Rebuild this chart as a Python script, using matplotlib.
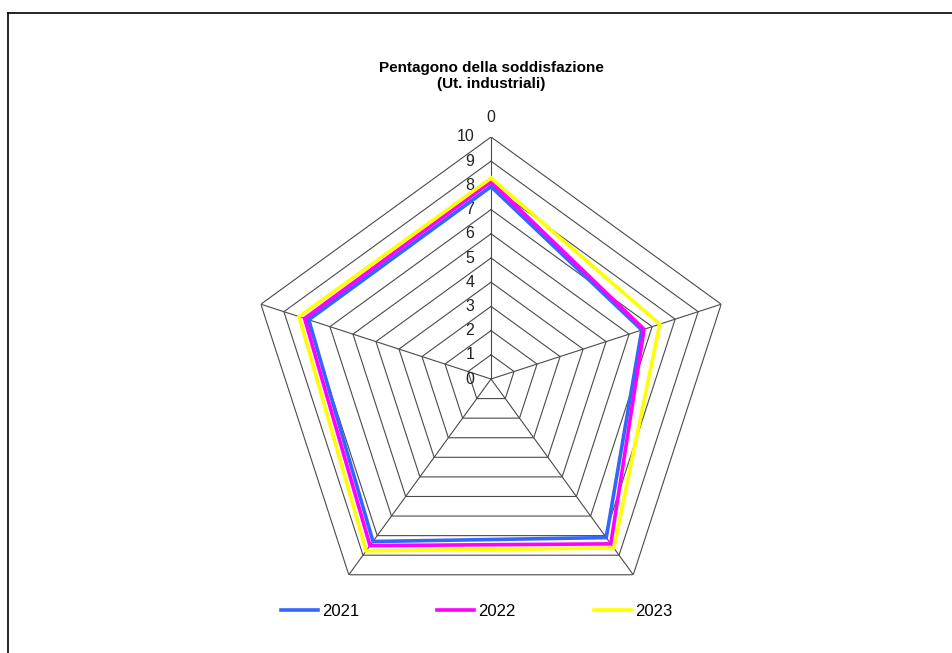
import numpy as np
import matplotlib
matplotlib.use("Agg")
import matplotlib.pyplot as plt
from matplotlib.lines import Line2D

plt.rcParams['font.family'] = ['Liberation Sans', 'DejaVu Sans']

# data (clockwise from the top axis)
categories = ['0', '', '', '', '']
years = ['2021', '2022', '2023']
vals_2021 = [7.95, 6.55, 8.10, 8.30, 7.92]
vals_2022 = [8.15, 6.65, 8.42, 8.51, 8.10]
vals_2023 = [8.30, 7.33, 8.63, 8.78, 8.34]
ring_ticks = list(range(0, 11))

colors = ['#3366FF', '#FF00FF', '#FFFF00']
series = [vals_2021, vals_2022, vals_2023]

fig = plt.figure(figsize=(9.53, 6.53), dpi=100)

# chart area border (Excel style)
fig.add_artist(Line2D([8 / 953, 8 / 953], [0, 1 - 13 / 653], transform=fig.transFigure,
                      color='black', lw=1.2))
fig.add_artist(Line2D([8 / 953, 1], [1 - 13 / 653, 1 - 13 / 653], transform=fig.transFigure,
                      color='black', lw=1.2))

ax = fig.add_axes([0.2613, 0.0490, 0.5079, 0.7412], projection='polar')
ax.set_theta_offset(np.pi / 2)
ax.set_theta_direction(-1)
ax.set_ylim(0, 10)
ax.grid(False)
ax.spines['polar'].set_visible(False)
ax.set_xticks([])
ax.set_yticks([])
ax.patch.set_alpha(0)

n = len(categories)
theta = np.linspace(0, 2 * np.pi, n, endpoint=False)
theta_c = np.append(theta, theta[0])

# pentagon grid
for r in ring_ticks[1:]:
    ax.plot(theta_c, [r] * (n + 1), color='#4a4a4a', lw=0.8, zorder=1)
for t in theta:
    ax.plot([t, t], [0, 10], color='#4a4a4a', lw=0.8, zorder=1)

# radial labels to the left of the top spoke
for r in ring_ticks:
    ax.annotate(str(r), xy=(0, r), xytext=(-12, 0), textcoords='offset points',
                ha='right', va='center', fontsize=11.5, color='#222222')

# category label
ax.annotate(categories[0], xy=(0, 10), xytext=(0, 14), textcoords='offset points',
            ha='center', va='center', fontsize=11.5, color='#222222')

for vals, c, lab in zip(series, colors, years):
    ax.plot(theta_c, vals + vals[:1], color=c, lw=2.6, label=lab, zorder=3,
            solid_joinstyle='miter')

fig.text(0.5152, 1 - 76 / 653, 'Pentagono della soddisfazione\n(Ut. industriali)',
         ha='center', va='center', fontsize=11, fontweight='bold', linespacing=1.2)

handles = [Line2D([0], [0], color=c, lw=2.6) for c in colors]
fig.legend(handles, years, loc='center', bbox_to_anchor=(0.5, 1 - 611 / 653), ncol=3,
           frameon=False, fontsize=12, handlelength=2.2, handletextpad=0.25,
           columnspacing=4.7)

fig.savefig('out.png', dpi=100)
